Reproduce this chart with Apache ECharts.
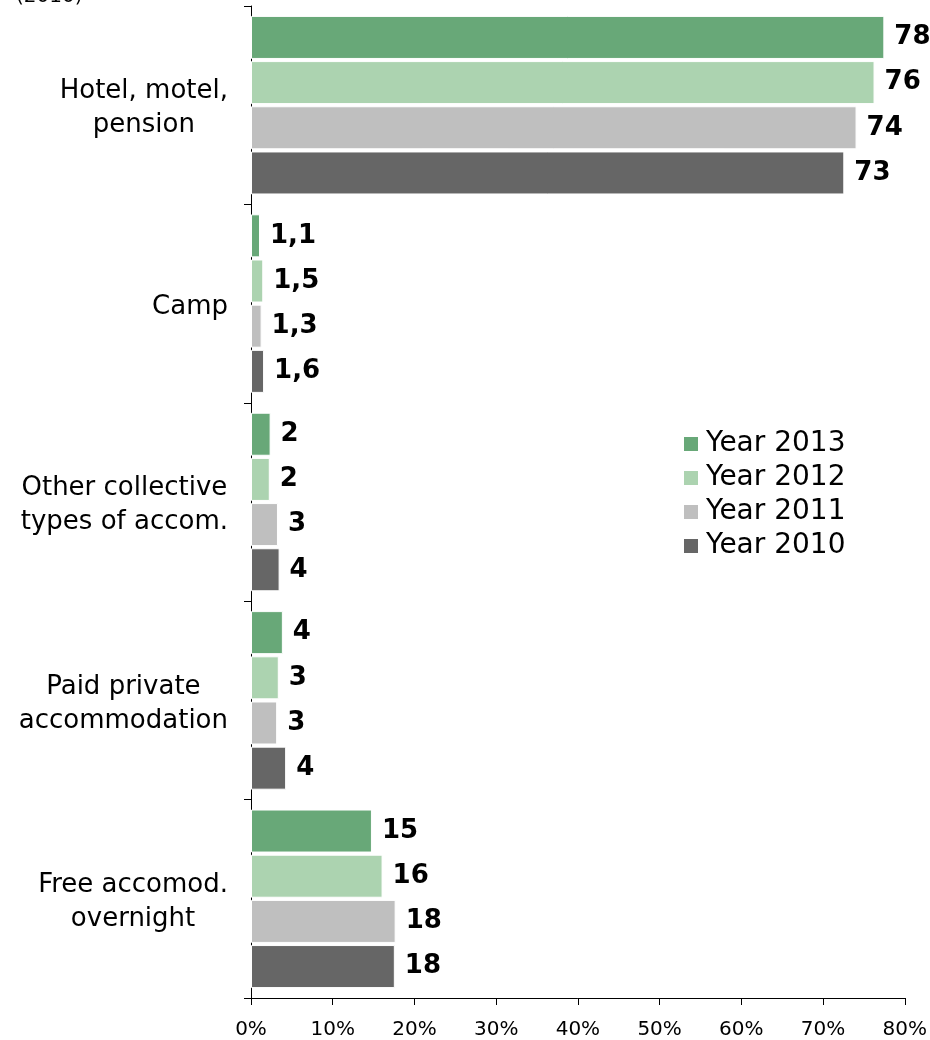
<!DOCTYPE html>
<html lang="en">
<head>
    <meta charset="utf-8">
    <title>Accommodation</title>
    <script type="text/javascript" src="https://cdn.jsdelivr.net/npm/echarts@6/dist/echarts.min.js"></script>
    <style>
        html, body { margin: 0; padding: 0; background: #fff; }
    </style>
</head>
<body>
<div id="main" style="width: 930px;height:1040px;"></div>
<script>
    // categories, top to bottom
    var categories = ['Hotel, motel,\npension', 'Camp', 'Other collective\ntypes of accom.', 'Paid private\naccommodation', 'Free accomod.\novernight'];
    var years = ['Year 2013', 'Year 2012', 'Year 2011', 'Year 2010'];
    // bar lengths (%)
    var y2013 = [77.5, 1.1, 2.4, 3.9, 14.8];
    var y2012 = [76.3, 1.5, 2.3, 3.4, 16.1];
    var y2011 = [74.1, 1.3, 3.3, 3.2, 17.7];
    var y2010 = [72.6, 1.6, 3.5, 4.3, 17.6];
    // printed labels
    var lbl2013 = ['78', '1,1', '2', '4', '15'];
    var lbl2012 = ['76', '1,5', '2', '3', '16'];
    var lbl2011 = ['74', '1,3', '3', '3', '18'];
    var lbl2010 = ['73', '1,6', '4', '4', '18'];
    var xTicks = [0, 10, 20, 30, 40, 50, 60, 70, 80];

    var colors = ['#68a878', '#acd3b0', '#bfbfbf', '#666666'];
    var values = [y2013, y2012, y2011, y2010];
    var labels = [lbl2013, lbl2012, lbl2011, lbl2010];

    var myChart = echarts.init(document.getElementById('main'));

    var series = [];
    for (var i = 0; i < years.length; i++) {
        (function (k) {
            series.push({
                name: years[k],
                type: 'bar',
                data: values[k],
                barGap: '5%',
                barCategoryGap: '10%',
                itemStyle: {color: colors[k], borderColor: '#fff', borderWidth: 1},
                label: {
                    show: true,
                    position: 'right',
                    distance: 10,
                    color: '#000',
                    fontFamily: 'DejaVu Sans',
                    fontWeight: 'bold',
                    fontSize: 26,
                    formatter: function (p) { return labels[k][p.dataIndex]; }
                }
            });
        })(i);
    }

    var option = {
        animation: false,
        color: colors,
        graphic: [{
            type: 'text',
            left: 16,
            top: -13,
            style: {text: '(2010)', fontFamily: 'DejaVu Sans', fontSize: 20, fill: '#000'}
        }],
        legend: {
            data: years,
            orient: 'vertical',
            left: 677,
            top: 425,
            itemWidth: 16,
            itemHeight: 16,
            itemGap: 6,
            icon: 'rect',
            textStyle: {fontFamily: 'DejaVu Sans', fontSize: 28, lineHeight: 28, color: '#000', padding: [0, 0, 0, 2]}
        },
        grid: {left: 251, right: 24, top: 6, bottom: 41},
        xAxis: {
            type: 'value',
            min: 0,
            max: 80,
            interval: 10,
            axisLine: {show: true, lineStyle: {color: '#000', width: 1}},
            axisTick: {show: true, length: 7, lineStyle: {color: '#000'}},
            splitLine: {show: false},
            axisLabel: {
                margin: 22,
                color: '#000',
                fontFamily: 'DejaVu Sans',
                fontSize: 20,
                formatter: function (v) { return xTicks.indexOf(v) >= 0 ? v + '%' : ''; }
            }
        },
        yAxis: {
            type: 'category',
            data: categories,
            inverse: true,
            axisLine: {show: true, lineStyle: {color: '#000', width: 1}},
            axisTick: {show: true, length: 7, lineStyle: {color: '#000'}},
            axisLabel: {
                margin: 23,
                align: 'right',
                padding: [7, 0, 0, 0],
                color: '#000',
                fontFamily: 'DejaVu Sans',
                fontSize: 26,
                lineHeight: 34,
                formatter: function (v) {
                    return v.split('\n').map(function (s) { return '{c|' + s + '}'; }).join('\n');
                },
                rich: {
                    c: {align: 'center', fontFamily: 'DejaVu Sans', fontSize: 26, lineHeight: 34, color: '#000'}
                }
            }
        },
        series: series
    };
    myChart.setOption(option);
</script>
</body>
</html>
